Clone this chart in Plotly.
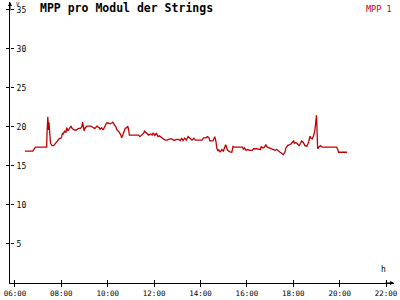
import plotly.graph_objects as go

title = "MPP pro Modul der Strings"
series_name = "MPP 1"
y_unit = "V"
x_unit = "h"

times = ["06:26", "06:46", "06:53", "07:22", "07:23", "07:25", "07:27", "07:28", "07:32", "07:36",
         "07:40", "07:45", "07:50", "07:55", "08:00", "08:03", "08:05", "08:09", "08:12", "08:14",
         "08:17", "08:21", "08:25", "08:28", "08:34", "08:39", "08:44", "08:49", "08:53", "08:55",
         "08:57", "08:59", "09:02", "09:06", "09:12", "09:17", "09:22", "09:27", "09:32", "09:38",
         "09:40", "09:44", "09:48", "09:52", "09:57", "10:01", "10:06", "10:10", "10:13", "10:17",
         "10:21", "10:24", "10:29", "10:34", "10:36", "10:39", "10:42", "10:45", "10:49", "10:52",
         "10:54", "10:56", "11:00", "11:20", "11:23", "11:25", "11:28", "11:33", "11:35", "11:40",
         "11:46", "11:51", "11:55", "11:58", "12:02", "12:06", "12:10", "12:14", "12:19", "12:24",
         "12:29", "12:34", "12:39", "12:44", "12:52", "12:57", "13:02", "13:08", "13:11", "13:15",
         "13:19", "13:23", "13:28", "13:33", "13:38", "13:43", "13:47", "14:04", "14:08", "14:14",
         "14:18", "14:22", "14:24", "14:32", "14:37", "14:40", "14:42", "14:45", "14:47", "14:51",
         "14:55", "14:59", "15:03", "15:05", "15:08", "15:10", "15:16", "15:21", "15:24", "15:28",
         "15:49", "15:51", "15:54", "15:58", "16:02", "16:07", "16:14", "16:17", "16:25", "16:30",
         "16:35", "16:37", "16:41", "16:45", "16:49", "16:53", "16:58", "17:03", "17:08", "17:13",
         "17:17", "17:21", "17:26", "17:31", "17:34", "17:38", "17:41", "17:45", "17:49", "17:54",
         "17:57", "18:01", "18:03", "18:07", "18:11", "18:15", "18:19", "18:22", "18:26", "18:30",
         "18:35", "18:38", "18:40", "18:43", "18:45", "18:49", "18:53", "18:56", "18:58", "19:00",
         "19:01", "19:02", "19:03", "19:06", "19:10", "19:15", "19:52", "19:55", "19:57", "20:19"]

values = [16.9, 16.9, 17.4, 17.4, 19.25, 21.3, 19.6, 20.6, 17.9, 17.6,
          17.6, 17.9, 18.3, 18.5, 18.6, 19.2, 19.1, 19.5, 19.25, 19.9,
          19.5, 19.8, 20.1, 19.8, 19.6, 19.6, 19.8, 19.8, 20.0, 20.6,
          20.0, 19.5, 19.9, 20.1, 20.1, 20.1, 19.9, 19.8, 20.1, 19.9,
          19.7, 19.9, 19.6, 20.1, 20.5, 20.5, 20.4, 20.5, 20.6, 20.3,
          20.0, 19.6, 19.4, 18.95, 18.6, 18.95, 19.4, 19.8, 19.9, 20.1,
          19.6, 18.95, 18.95, 18.95, 18.75, 18.85, 18.95, 19.2, 19.45, 19.2,
          18.95, 19.1, 18.95, 19.25, 18.9, 19.2, 18.75, 18.85, 18.6, 18.45,
          18.3, 18.3, 18.45, 18.5, 18.25, 18.4, 18.4, 18.25, 18.55, 18.25,
          18.55, 18.3, 18.75, 18.55, 18.3, 18.55, 18.3, 18.3, 18.6, 18.6,
          18.75, 18.6, 18.2, 18.2, 18.75, 18.1, 17.3, 16.9, 17.1, 16.75,
          17.1, 16.9, 17.4, 17.7, 17.3, 17.0, 16.8, 16.75, 17.5, 17.4,
          17.4, 17.1, 17.3, 17.0, 17.1, 17.0, 17.0, 17.2, 17.2, 17.1,
          17.1, 17.5, 17.3, 17.4, 17.7, 17.4, 17.3, 17.3, 17.2, 17.0,
          17.1, 16.9, 16.75, 16.6, 16.45, 16.7, 17.3, 17.6, 17.7, 17.8,
          18.0, 18.2, 17.9, 18.0, 17.8, 17.6, 17.9, 18.2, 18.0, 17.6,
          17.5, 17.8, 18.1, 18.8, 18.6, 18.45, 18.95, 19.6, 20.75, 21.5,
          20.2, 18.75, 17.2, 17.4, 17.6, 17.4, 17.4, 17.1, 16.75, 16.75]

x_ticks = ["06:00", "08:00", "10:00", "12:00", "14:00", "16:00", "18:00", "20:00", "22:00"]
y_ticks = [5, 10, 15, 20, 25, 30, 35]

day = "2024-01-01 "
xs = [day + t for t in times]
x_range = [day + "05:47:12", day + "22:20:30"]
y_range = [0, 36]

line_color = "#c00000"
mono = "DejaVu Sans Mono"

fig = go.Figure()
fig.add_trace(go.Scatter(x=xs, y=values, mode="lines", name=series_name,
                         line=dict(color=line_color, width=1.3), showlegend=False))
# empty helper trace so the overlay axes (second half of the crossing ticks) are drawn
fig.add_trace(go.Scatter(x=[], y=[], xaxis="x2", yaxis="y2", showlegend=False, hoverinfo="skip"))

fig.update_layout(
    width=400, height=300,
    margin=dict(l=10, r=2, t=2, b=10),
    paper_bgcolor="white", plot_bgcolor="white",
    title=dict(text="<b>" + title + "</b>", x=0.1, xanchor="left", y=0.975, yanchor="middle",
               font=dict(family=mono, size=11.5, color="black")),
    font=dict(family=mono, size=8, color="black"),
    xaxis=dict(
        type="date", range=x_range,
        tickmode="array", tickvals=[day + t for t in x_ticks], ticktext=x_ticks,
        ticklabeloverflow="allow",
        showgrid=False, zeroline=False,
        showline=True, linecolor="black", linewidth=1,
        ticks="outside", ticklen=3, tickcolor="black",
        tickfont=dict(family=mono, size=7.5, color="black"),
    ),
    xaxis2=dict(
        type="date", range=x_range, overlaying="x", side="top",
        anchor="free", position=0,
        tickmode="array", tickvals=[day + t for t in x_ticks],
        showticklabels=False, showgrid=False, zeroline=False, showline=False,
        ticks="outside", ticklen=3, tickcolor="black",
    ),
    yaxis=dict(
        range=y_range, tickvals=y_ticks,
        showticklabels=False, showgrid=False, zeroline=False,
        showline=True, linecolor="black", linewidth=1,
        ticks="outside", ticklen=3, tickcolor="black",
    ),
    yaxis2=dict(
        range=y_range, overlaying="y", side="right",
        anchor="free", position=0,
        tickvals=y_ticks, ticktext=[str(v) for v in y_ticks],
        showgrid=False, zeroline=False, showline=False,
        ticks="outside", ticklen=3, tickcolor="black",
        ticklabelstandoff=1,
        tickfont=dict(family=mono, size=8, color="black"),
    ),
)

# series label (top-right)
fig.add_annotation(text=series_name, xref="paper", yref="paper", x=1, y=1.0,
                   xanchor="right", yanchor="top", showarrow=False,
                   font=dict(family=mono, size=8.5, color=line_color))
# unit labels
fig.add_annotation(text=y_unit, xref="paper", yref="paper", x=0.014, y=1.007,
                   xanchor="left", yanchor="top", showarrow=False, borderpad=0,
                   font=dict(family=mono, size=5.5, color="black"))
fig.add_annotation(text=x_unit, xref="paper", yref="paper", x=0.972, y=0.025,
                   xanchor="center", yanchor="bottom", showarrow=False,
                   font=dict(family=mono, size=8, color="black"))
# axis arrows
fig.add_annotation(text="", xref="paper", yref="paper", x=0, y=1.0, ax=0, ay=10,
                   showarrow=True, arrowhead=2, arrowsize=0.8, arrowwidth=1, arrowcolor="black")
fig.add_annotation(text="", xref="paper", yref="paper", x=1.0, y=0, ax=-10, ay=0,
                   showarrow=True, arrowhead=2, arrowsize=0.8, arrowwidth=1, arrowcolor="black")

fig.write_html("out.html")
